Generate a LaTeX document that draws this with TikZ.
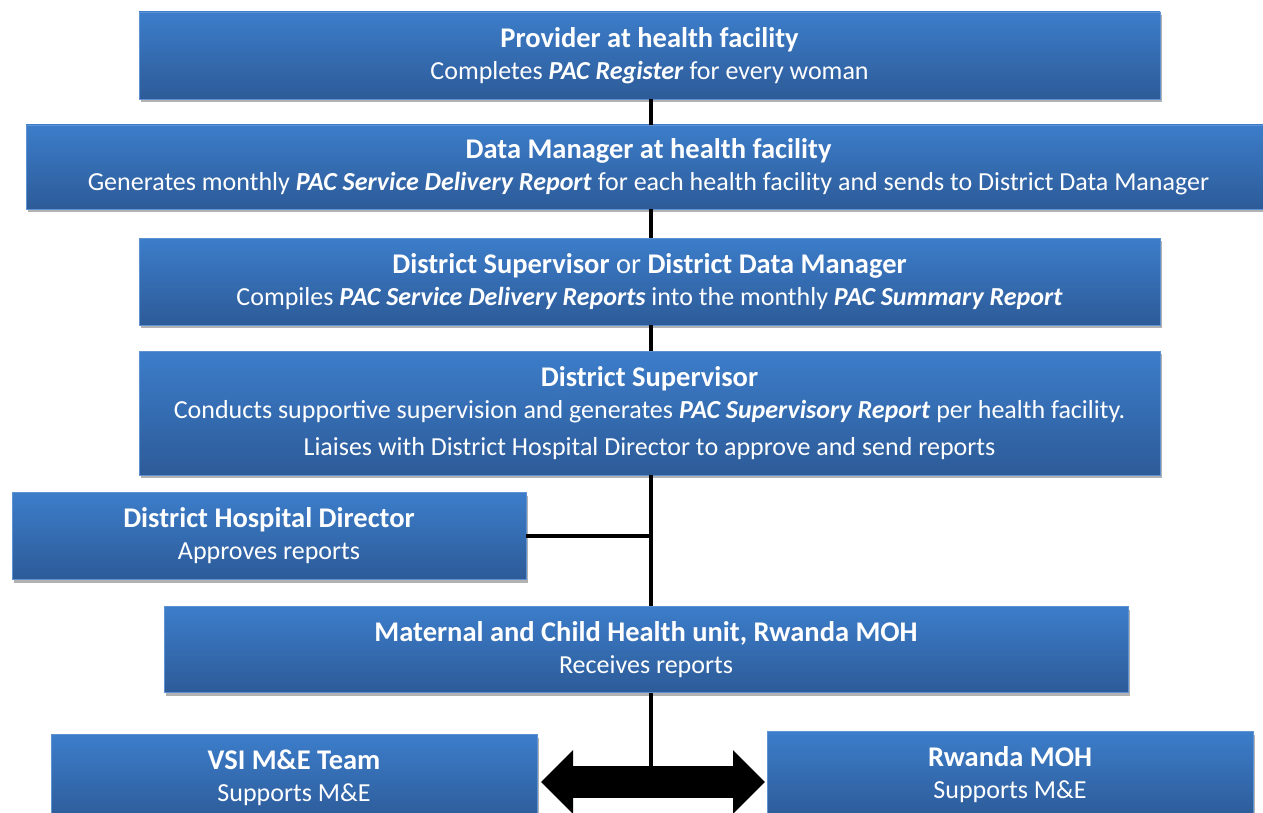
\documentclass[tikz,border=0pt]{standalone}
\usepackage{fontspec}
\setmainfont{Carlito}
\usetikzlibrary{shadows,arrows.meta}

\definecolor{boxtop}{HTML}{3C7DCA}
\definecolor{boxbot}{HTML}{2D5B98}
\definecolor{boxedge}{HTML}{5E92D2}

\tikzset{
  stage/.style={draw=boxedge, line width=0.8pt, top color=boxtop, bottom color=boxbot,
    text=white, align=center, inner sep=0pt,
    font=\fontsize{26}{32}\selectfont,
    drop shadow={shadow xshift=1.5pt, shadow yshift=-3pt, opacity=0.3, fill=black}},
  link/.style={line width=3.5pt, black},
  bigarrow/.style={line width=32pt, black, {Triangle[length=32pt,width=62pt]}-{Triangle[length=32pt,width=62pt]}}
}
\newcommand{\pac}[1]{\textbf{\textit{#1}}}
\newcommand{\who}[1]{{\fontsize{28.5}{32}\selectfont #1}}

\begin{document}
\begin{tikzpicture}[x=1pt, y=-1pt]
  \useasboundingbox (0,0) rectangle (1263,813);

  \coordinate (spine) at (651,0);

  % reporting chain
  \node[stage, minimum width=1021, minimum height=87] (prov) at (649.5,55.5)
    {\who{\textbf{Provider at health facility}}\\ Completes \pac{PAC Register} for every woman};
  \node[stage, minimum width=1245, minimum height=84] (dm) at (648.5,167)
    {\who{\textbf{Data Manager at health facility}}\\ Generates monthly \pac{PAC Service Delivery Report} for each health facility and sends to District Data Manager};
  \node[stage, minimum width=1021, minimum height=87] (dsdm) at (649.5,281.5)
    {\who{\textbf{District Supervisor} or \textbf{District Data Manager}}\\ Compiles \pac{PAC Service Delivery Reports} into the monthly \pac{PAC Summary Report}};
  \node[stage, minimum width=1021, minimum height=124] (ds) at (649.5,413)
    {\who{\textbf{District Supervisor}}\\ Conducts supportive supervision and generates \pac{PAC Supervisory Report} per health facility.\\[5pt] Liaises with District Hospital Director to approve and send reports};
  \node[stage, minimum width=514, minimum height=87] (dhd) at (269,536)
    {\who{\textbf{District Hospital Director}}\\ Approves reports};
  \node[stage, minimum width=964, minimum height=86] (mch) at (646,649.5)
    {\who{\textbf{Maternal and Child Health unit, Rwanda MOH}}\\ Receives reports};

  % M&E support
  \node[stage, minimum width=486, minimum height=87] (vsi) at (294,778)
    {\who{\textbf{VSI M\&E Team}}\\ Supports M\&E};
  \node[stage, minimum width=486, minimum height=87] (moh) at (1010,775)
    {\who{\textbf{Rwanda MOH}}\\ Supports M\&E};

  \coordinate (al) at (541,782);
  \coordinate (ar) at (765,782);

  % connectors
  \draw[link] (prov.south -| spine) -- (dm.north -| spine);
  \draw[link] (dm.south -| spine) -- (dsdm.north -| spine);
  \draw[link] (dsdm.south -| spine) -- (ds.north -| spine);
  \draw[link] (ds.south -| spine) -- (mch.north -| spine);
  \draw[link] (dhd.east) -- (dhd.east -| spine);
  \draw[link] (mch.south -| spine) -- (al -| spine);
  \draw[bigarrow] (al) -- (ar);
\end{tikzpicture}
\end{document}
